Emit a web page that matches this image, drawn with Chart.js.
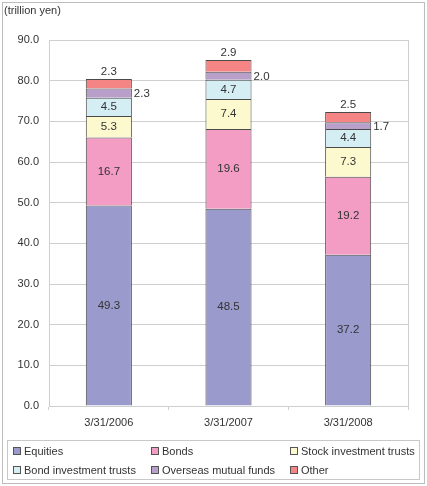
<!DOCTYPE html>
<html>
<head>
<meta charset="utf-8">
<script src="https://cdn.jsdelivr.net/npm/chart.js@4/dist/chart.umd.min.js"></script>
<style>
  html, body { margin: 0; padding: 0; background: #fff; }
  canvas { display: block; }
</style>
</head>
<body>
<canvas id="grafico" width="427" height="486"></canvas>
<script>
// datos
const fechas = ['3/31/2006', '3/31/2007', '3/31/2008'];
const equities = [49.3, 48.5, 37.2];
const bonds = [16.7, 19.6, 19.2];
const stockTrusts = [5.3, 7.4, 7.3];
const bondTrusts = [4.5, 4.7, 4.4];
const overseas = [2.3, 2.0, 1.7];
const other = [2.3, 2.9, 2.5];
const yTicks = [0, 10, 20, 30, 40, 50, 60, 70, 80, 90];

const fuente = '"Liberation Sans", Arial, sans-serif';
const texto = '#333';

const series = [
    { label: 'Equities', data: equities, color: '#9a9acc' },
    { label: 'Bonds', data: bonds, color: '#f39cc4' },
    { label: 'Stock investment trusts', data: stockTrusts, color: '#fcf9cf' },
    { label: 'Bond investment trusts', data: bondTrusts, color: '#d4eef4' },
    { label: 'Overseas mutual funds', data: overseas, color: '#b9a0cb' },
    { label: 'Other', data: other, color: '#f58585' }
];

// marco, etiquetas y leyenda
const extras = {
    id: 'extras',
    beforeDraw(chart) {
        const ctx = chart.ctx;
        ctx.save();
        ctx.fillStyle = '#fff';
        ctx.fillRect(0, 0, chart.width, chart.height);
        ctx.strokeStyle = '#bdbdbd';
        ctx.lineWidth = 1;
        ctx.strokeRect(2.5, 2.5, chart.width - 5, chart.height - 5);
        ctx.fillStyle = texto;
        ctx.font = '11px ' + fuente;
        ctx.textBaseline = 'middle';
        ctx.fillText('(trillion yen)', 4, 11);
        ctx.restore();
    },
    afterDatasetsDraw(chart) {
        const ctx = chart.ctx;
        const area = chart.chartArea;
        ctx.save();
        // borde derecho del area
        ctx.strokeStyle = '#cfcfcf';
        ctx.beginPath();
        ctx.moveTo(Math.round(area.right) + 0.5, area.top);
        ctx.lineTo(Math.round(area.right) + 0.5, area.bottom);
        ctx.stroke();

        ctx.font = '11.5px ' + fuente;
        ctx.fillStyle = texto;
        chart.data.datasets.forEach((ds, i) => {
            const meta = chart.getDatasetMeta(i);
            meta.data.forEach((bar, j) => {
                const v = ds.data[j].toFixed(1);
                const p = bar.getProps(['x', 'y', 'base', 'width'], true);
                if (i <= 3) {
                    ctx.textAlign = 'center';
                    ctx.textBaseline = 'middle';
                    ctx.fillText(v, p.x, (p.y + p.base) / 2);
                } else if (i === 4) {
                    ctx.textAlign = 'left';
                    ctx.textBaseline = 'middle';
                    ctx.fillText(v, p.x + p.width / 2 + 2, (p.y + p.base) / 2 + 1);
                } else {
                    ctx.textAlign = 'center';
                    ctx.textBaseline = 'bottom';
                    ctx.fillText(v, p.x, p.y - 1);
                }
            });
        });

        // leyenda
        ctx.strokeStyle = '#c8c8c8';
        ctx.strokeRect(7.5, 440.5, 412, 39);
        const cols = [13, 151, 290];
        const rows = [451, 470];
        ctx.font = '11px ' + fuente;
        ctx.textAlign = 'left';
        ctx.textBaseline = 'middle';
        chart.data.datasets.forEach((ds, i) => {
            const x = cols[i % 3];
            const y = rows[Math.floor(i / 3)];
            ctx.fillStyle = ds.backgroundColor;
            ctx.fillRect(x, y - 4, 8, 8);
            ctx.strokeStyle = '#555';
            ctx.strokeRect(x + 0.5, y - 3.5, 7, 7);
            ctx.fillStyle = texto;
            ctx.fillText(ds.label, x + 11, y + 0.5);
        });
        ctx.restore();
    }
};

const ctx = document.getElementById('grafico').getContext('2d');
new Chart(ctx, {
    type: 'bar',
    data: {
        labels: fechas,
        datasets: series.map(s => ({
            label: s.label,
            data: s.data,
            backgroundColor: s.color,
            borderColor: '#4a4a4a',
            borderWidth: 1,
            barPercentage: 0.385,
            categoryPercentage: 1
        }))
    },
    options: {
        responsive: false,
        animation: false,
        layout: { padding: { top: 40, right: 19, left: 0, bottom: 0 } },
        plugins: {
            legend: { display: false },
            tooltip: { enabled: false }
        },
        scales: {
            x: {
                stacked: true,
                afterFit: (scale) => { scale.height = 80; },
                grid: {
                    drawOnChartArea: false,
                    drawTicks: true,
                    tickLength: 4,
                    color: '#cfcfcf'
                },
                border: { color: '#cfcfcf' },
                ticks: {
                    color: texto,
                    font: { family: fuente, size: 11 },
                    padding: 6
                }
            },
            y: {
                stacked: true,
                min: 0,
                max: 90,
                afterFit: (scale) => { scale.width = 49; },
                afterBuildTicks: (scale) => { scale.ticks = yTicks.map(v => ({ value: v })); },
                grid: { color: '#cfcfcf', drawTicks: false },
                border: { color: '#cfcfcf' },
                ticks: {
                    color: texto,
                    font: { family: fuente, size: 11 },
                    padding: 10,
                    callback: (v) => Number(v).toFixed(1)
                }
            }
        }
    },
    plugins: [extras]
});
</script>
</body>
</html>
